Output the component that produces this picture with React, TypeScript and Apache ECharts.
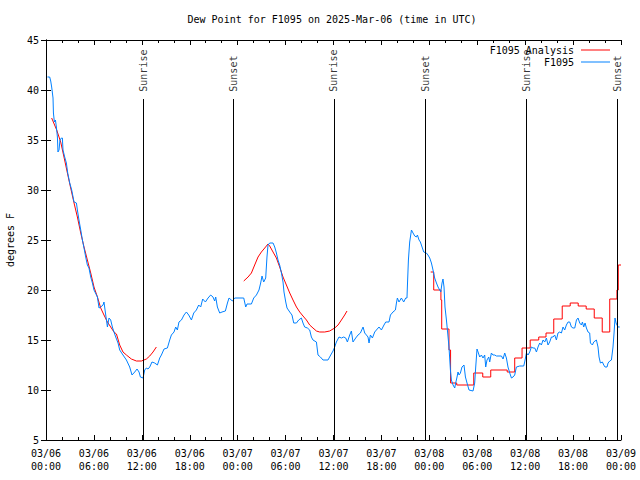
import React, { useEffect, useRef } from "react";
import * as echarts from "echarts";

// Time axis: hours since 2025-03-06 00:00 UTC. Values: dew point in °F.
const chartTitle = "Dew Point for F1095 on 2025-Mar-06 (time in UTC)";
const yAxisName = "degrees F";
const analysisName = "F1095 Analysis";
const obsName = "F1095";

const xTickHours = [0, 6, 12, 18, 24, 30, 36, 42, 48, 54, 60, 66, 72];
const yTickValues = [5, 10, 15, 20, 25, 30, 35, 40, 45];

const sunTimes = [12.15, 23.42, 36.06, 47.46, 60.11, 71.52];
const sunLabels = ["Sunrise", "Sunset", "Sunrise", "Sunset", "Sunrise", "Sunset"];

// Observations (F1095)
const obsF1095: [number, number][] = [
  [0.18, 41.3], [0.46, 41.3], [0.59, 40.9], [0.71, 40.3], [0.88, 39.2], [0.93, 37.7], [1.05, 36.8], [1.18, 37.0],
  [1.3, 36.3], [1.43, 35.3], [1.5, 33.8], [1.63, 34.0], [1.75, 35.0], [1.93, 35.2], [2.05, 35.2], [2.13, 34.0],
  [2.34, 33.3], [2.55, 32.7], [2.72, 31.7], [2.97, 30.7], [3.22, 30.0], [3.51, 28.8], [3.81, 28.7], [3.93, 28.0],
  [4.13, 27.0], [4.35, 26.0], [4.56, 25.0], [4.76, 24.2], [4.97, 23.3], [5.18, 22.5], [5.38, 22.2], [5.6, 21.3],
  [5.81, 20.7], [6.01, 20.0], [6.44, 19.3], [6.64, 18.2], [6.85, 18.3], [7.14, 18.5], [7.26, 18.8], [7.48, 17.5],
  [7.69, 16.3], [7.89, 17.2], [8.1, 17.0], [8.31, 16.3], [8.51, 15.8], [8.73, 15.3], [9.02, 14.7], [9.23, 14.0],
  [9.64, 13.5], [10.07, 13.0], [10.48, 12.3], [10.77, 11.5], [11.11, 11.8], [11.4, 12.1], [11.65, 11.8], [11.82, 11.3],
  [12.15, 11.2], [12.36, 12.0], [12.57, 12.2], [12.77, 12.1], [12.99, 12.3], [13.27, 12.8], [13.61, 12.7], [13.95, 12.5],
  [14.24, 13.2], [14.45, 13.5], [14.78, 14.1], [15.2, 14.2], [15.49, 15.0], [15.7, 15.5], [16.03, 15.8], [16.24, 16.3],
  [16.45, 16.0], [16.65, 16.8], [16.96, 17.0], [17.28, 17.5], [17.58, 17.8], [17.87, 17.5], [18.21, 17.0], [18.5, 17.7],
  [18.83, 18.0], [19.12, 18.5], [19.37, 18.3], [19.62, 19.1], [19.96, 18.8], [20.29, 19.2], [20.62, 19.5], [20.91, 19.3],
  [21.12, 18.9], [21.25, 19.3], [21.46, 18.3], [21.75, 17.7], [22.04, 17.8], [22.46, 17.9], [22.72, 18.7], [22.92, 19.2],
  [23.34, 18.9], [23.63, 19.2], [24.76, 19.2], [25.01, 18.3], [25.17, 18.6], [25.72, 18.6], [26.01, 19.2], [26.35, 19.5],
  [26.67, 20.0], [26.88, 20.7], [27.05, 21.4], [27.26, 20.8], [27.51, 21.2], [27.67, 23.3], [27.8, 24.5], [28.01, 24.7],
  [28.43, 24.7], [28.64, 24.3], [28.85, 23.7], [29.05, 23.0], [29.26, 22.5], [29.48, 21.7], [29.68, 20.8], [29.8, 19.8],
  [30.02, 18.8], [30.18, 18.2], [30.52, 17.8], [30.8, 17.5], [31.02, 16.7], [31.36, 16.7], [31.64, 17.0], [31.98, 17.2],
  [32.18, 16.7], [32.39, 16.3], [32.73, 16.2], [33.02, 16.0], [33.23, 15.3], [33.43, 15.0], [33.86, 14.8], [34.06, 13.5],
  [34.36, 13.3], [34.69, 13.0], [35.31, 13.0], [35.65, 13.5], [35.94, 13.9], [36.15, 14.3], [36.36, 14.8], [36.69, 15.3],
  [36.99, 15.2], [37.28, 15.3], [37.53, 15.2], [37.74, 14.8], [38.03, 15.5], [38.24, 15.9], [38.44, 14.8], [38.78, 15.2],
  [39.07, 15.5], [39.37, 15.7], [39.7, 16.3], [39.91, 15.7], [40.12, 15.5], [40.32, 15.3], [40.45, 14.7], [40.62, 15.5],
  [40.87, 15.2], [41.16, 15.8], [41.37, 16.0], [41.7, 16.3], [42.0, 16.0], [42.32, 16.5], [42.54, 16.8], [42.95, 16.8],
  [43.13, 17.5], [43.45, 17.8], [43.75, 18.0], [43.88, 18.7], [44.0, 19.2], [44.2, 18.8], [44.5, 19.2], [44.79, 18.8],
  [45.04, 19.2], [45.2, 19.2], [45.26, 20.5], [45.38, 23.0], [45.54, 24.8], [45.76, 26.0], [45.96, 25.7], [46.17, 25.4],
  [46.38, 25.3], [46.51, 25.5], [46.71, 25.0], [46.88, 24.8], [47.3, 23.8], [47.63, 23.7], [47.83, 23.5], [48.05, 23.2],
  [48.26, 22.7], [48.46, 22.0], [48.67, 21.2], [48.89, 20.7], [49.09, 20.3], [49.3, 20.0], [49.43, 19.8], [49.59, 20.7],
  [49.71, 21.1], [49.84, 20.3], [49.96, 18.3], [50.14, 17.0], [50.3, 15.7], [50.46, 14.3], [50.64, 12.0], [50.76, 11.0],
  [50.97, 10.5], [51.18, 10.2], [51.3, 10.7], [51.47, 11.3], [51.59, 11.8], [51.72, 11.5], [51.89, 11.7], [52.09, 12.3],
  [52.34, 12.5], [52.52, 11.3], [52.72, 10.7], [52.97, 10.0], [53.47, 9.9], [53.68, 10.7], [53.81, 12.3], [53.97, 14.1],
  [54.1, 13.8], [54.31, 13.3], [54.52, 13.5], [54.72, 13.2], [54.93, 13.5], [55.06, 12.3], [55.22, 13.0], [55.44, 13.3],
  [55.56, 12.8], [55.77, 13.7], [55.97, 13.5], [56.19, 13.5], [56.4, 13.4], [57.03, 13.4], [57.23, 13.1], [57.44, 13.7],
  [57.65, 13.2], [57.85, 12.3], [58.07, 11.7], [58.28, 11.2], [58.48, 11.3], [58.69, 11.5], [58.9, 12.3], [59.32, 12.4],
  [59.82, 12.4], [59.94, 12.8], [60.16, 13.7], [60.36, 13.5], [60.57, 13.8], [60.78, 14.3], [60.98, 14.2], [61.2, 14.2],
  [61.41, 13.8], [61.61, 14.3], [61.82, 14.7], [62.03, 14.5], [62.24, 15.0], [62.45, 14.8], [62.66, 15.2], [62.86, 14.5],
  [63.07, 14.8], [63.29, 15.3], [63.49, 15.3], [63.7, 15.5], [63.91, 15.0], [64.11, 15.7], [64.33, 15.8], [64.54, 15.7],
  [64.74, 16.3], [64.95, 16.0], [65.16, 16.5], [65.37, 16.8], [65.58, 16.8], [65.79, 16.3], [65.99, 16.2], [66.21, 16.2],
  [66.42, 17.0], [66.62, 17.2], [66.83, 16.7], [67.04, 16.5], [67.17, 16.8], [67.33, 16.3], [67.5, 16.7], [67.67, 16.2],
  [67.87, 15.8], [68.08, 15.7], [68.17, 14.7], [68.42, 14.5], [68.58, 14.8], [68.92, 15.0], [69.12, 14.3], [69.25, 13.3],
  [69.42, 12.7], [69.67, 12.8], [69.84, 12.5], [70.0, 12.3], [70.25, 12.3], [70.38, 12.7], [70.59, 12.9], [70.8, 13.0],
  [71.0, 14.3], [71.13, 15.7], [71.25, 17.2], [71.38, 16.7], [71.5, 16.5], [71.63, 16.3], [71.84, 16.3],
];

// Analysis, first day (smooth)
const analysisDay1: [number, number][] = [
  [0.71, 37.2], [1.34, 36.0], [1.84, 34.8], [2.25, 33.3], [2.68, 31.7], [3.09, 30.2], [3.51, 28.7], [3.93, 27.3],
  [4.35, 25.7], [4.76, 24.3], [5.18, 23.0], [5.6, 21.7], [6.01, 20.3], [6.44, 19.3], [6.85, 18.2], [7.26, 17.5],
  [7.69, 16.8], [8.1, 16.3], [8.51, 15.8], [8.82, 15.6], [9.23, 14.5], [9.64, 13.8], [10.07, 13.5], [10.69, 13.1],
  [11.32, 12.9], [11.95, 12.9], [12.57, 13.1], [12.99, 13.4], [13.4, 13.8], [13.82, 14.3],
];

// Analysis, second day (smooth)
const analysisDay2: [number, number][] = [
  [24.76, 20.9], [25.3, 21.3], [25.72, 21.7], [26.13, 22.5], [26.55, 23.3], [26.97, 23.8], [27.39, 24.2], [27.8, 24.6],
  [28.01, 24.4], [28.43, 23.8], [28.85, 23.2], [29.26, 22.3], [29.68, 21.3], [30.1, 20.5], [30.52, 19.7], [30.93, 19.0],
  [31.36, 18.3], [31.77, 17.8], [32.18, 17.4], [32.61, 17.0], [33.02, 16.5], [33.43, 16.2], [33.86, 15.9], [34.27, 15.8],
  [34.9, 15.8], [35.52, 15.9], [36.15, 16.2], [36.57, 16.5], [36.99, 17.0], [37.4, 17.5], [37.69, 17.9],
];

// Analysis, third day (stepped: each value holds until the next time)
const analysisDay3: [number, number][] = [
  [48.17, 21.8], [48.55, 20.0], [49.45, 19.0], [49.55, 16.1], [50.46, 14.0], [50.66, 10.7], [51.43, 10.5], [53.56, 11.7],
  [54.69, 11.3], [55.69, 12.0], [57.75, 11.8], [58.69, 13.2], [59.61, 14.2], [60.63, 15.0], [61.7, 15.3], [62.61, 15.7],
  [63.58, 17.1], [64.64, 18.4], [65.64, 18.7], [66.64, 18.4], [67.64, 18.1], [68.65, 17.2], [69.65, 15.8], [70.59, 19.1],
  [71.49, 20.0], [71.66, 22.5], [72.0, 22.5],
];

const FONT = "DejaVu Sans Mono";
const RED = "#ff0000";
const BLUE = "#0080ff";

function fmtHour(v: number): string {
  const dayIdx = Math.floor(v / 24 + 1e-9);
  const hh = Math.round(v - dayIdx * 24);
  const day = 6 + dayIdx;
  return `03/${String(day).padStart(2, "0")}\n${String(hh).padStart(2, "0")}:00`;
}

export default function App() {
  const ref = useRef<HTMLDivElement>(null);
  useEffect(() => {
    if (!ref.current) return;
    const chart = echarts.init(ref.current, null, { renderer: "svg" });
    const textBase = { fontFamily: FONT, fontSize: 10, color: "#000" };
    const xCommon = {
      type: "value" as const,
      min: xTickHours[0],
      max: xTickHours[xTickHours.length - 1],
      interval: 6,
      axisLine: { show: true, lineStyle: { color: "#000", width: 1 } },
      axisTick: { show: true, inside: true, length: 5, lineStyle: { color: "#000" } },
      minorTick: { show: true, splitNumber: 3, length: 3, lineStyle: { color: "#000" } },
      splitLine: { show: false },
    };
    const yCommon = {
      type: "value" as const,
      min: yTickValues[0],
      max: yTickValues[yTickValues.length - 1],
      interval: 5,
      axisLine: { show: true, lineStyle: { color: "#000", width: 1 } },
      axisTick: { show: true, inside: true, length: 5, lineStyle: { color: "#000" } },
      splitLine: { show: false },
    };
    const legendCommon = {
      right: 30,
      align: "right",
      padding: 0,
      icon: "rect",
      itemWidth: 29,
      itemHeight: 1,
      textStyle: { ...textBase, lineHeight: 12, padding: [0, 2, 0, 0] },
    };
    const option: any = {
      animation: false,
      backgroundColor: "#fff",
      title: {
        text: chartTitle,
        left: 332,
        textAlign: "center",
        top: 13,
        padding: 0,
        textStyle: { ...textBase, fontWeight: "normal", lineHeight: 12 },
      },
      legend: [
        { ...legendCommon, data: [analysisName], top: 44 },
        { ...legendCommon, data: [obsName], top: 56 },
      ],
      grid: { left: 46, right: 19, top: 40, bottom: 40, containLabel: false, outerBoundsMode: "none" },
      xAxis: [
        {
          ...xCommon,
          position: "bottom",
          axisLabel: { ...textBase, margin: 7, lineHeight: 13, formatter: fmtHour },
        },
        {
          ...xCommon,
          position: "top",
          axisLabel: { show: false },
        },
      ],
      yAxis: [
        {
          ...yCommon,
          position: "left",
          name: yAxisName,
          nameLocation: "middle",
          nameGap: 31,
          nameRotate: 90,
          nameTextStyle: textBase,
          axisLabel: { ...textBase, margin: 7 },
        },
        {
          ...yCommon,
          position: "right",
          axisLabel: { show: false },
        },
      ],
      series: [
        {
          name: analysisName,
          type: "line",
          data: analysisDay1,
          symbol: "none",
          lineStyle: { color: RED, width: 1 },
          itemStyle: { color: RED },
        },
        {
          name: analysisName,
          type: "line",
          data: analysisDay2,
          symbol: "none",
          lineStyle: { color: RED, width: 1 },
          itemStyle: { color: RED },
        },
        {
          name: analysisName,
          type: "line",
          data: analysisDay3,
          step: "end",
          symbol: "none",
          lineStyle: { color: RED, width: 1 },
          itemStyle: { color: RED },
        },
        {
          name: obsName,
          type: "line",
          data: obsF1095,
          symbol: "none",
          lineStyle: { color: BLUE, width: 1 },
          itemStyle: { color: BLUE },
        },
        {
          name: "sun",
          type: "scatter",
          symbolSize: 0,
          silent: true,
          data: sunTimes.map((t, i) => ({
            value: [t, 39.83],
            label: { formatter: sunLabels[i] },
          })),
          label: {
            show: true,
            position: "inside",
            rotate: 90,
            align: "left",
            verticalAlign: "middle",
            ...textBase,
          },
          markLine: {
            silent: true,
            symbol: ["none", "none"],
            label: { show: false },
            lineStyle: { color: "#000", width: 1, type: "solid" },
            data: sunTimes.map((t) => [{ coord: [t, 5] }, { coord: [t, 39.1] }]),
          },
        },
      ],
    };
    chart.setOption(option);
    return () => chart.dispose();
  }, []);
  return (
    <div
      ref={ref}
      style={{ position: "absolute", left: 0, top: 0, width: 640, height: 480 }}
    />
  );
}
